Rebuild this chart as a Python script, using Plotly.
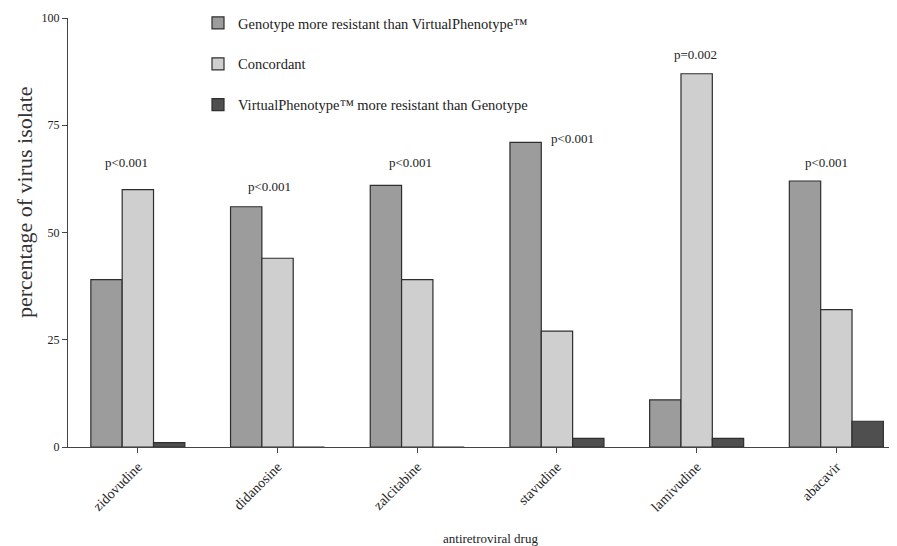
import plotly.graph_objects as go

drugs = ["zidovudine", "didanosine", "zalcitabine", "stavudine", "lamivudine", "abacavir"]
geno_more = [39, 56, 61, 71, 11, 62]
concordant = [60, 44, 39, 27, 87, 32]
vp_more = [1, 0, 0, 2, 2, 6]
series_names = ["Genotype more resistant than VirtualPhenotype™",
                "Concordant",
                "VirtualPhenotype™ more resistant than Genotype"]
p_labels = ["p<0.001", "p<0.001", "p<0.001", "p<0.001", "p=0.002", "p<0.001"]
p_x = [-0.08, 0.94, 1.95, 3.11, 3.99, 4.93]
p_y = [66.4, 60.8, 66.4, 72.0, 91.4, 66.4]
y_ticks = [0, 25, 50, 75, 100]

font = "Liberation Serif, Times New Roman, serif"
colors = ["#9c9c9c", "#cfcfcf", "#4f4f4f"]

# page has an 8px body margin; work in screen pixels and subtract it
OFF = 8
W, H = 897, 546
scr_left, scr_top, scr_bottom, scr_right = 68, 18, 447, 897
L = scr_left - OFF
T = scr_top - OFF
R = W - (scr_right - OFF)
B = H - (scr_bottom - OFF)
pw, ph = W - L - R, H - T - B


def px_to_paper(sx, sy):
    lx, ly = sx - OFF, sy - OFF
    return (lx - L) / pw, (H - B - ly) / ph


fig = go.Figure()
for i, (name, vals) in enumerate(zip(series_names, [geno_more, concordant, vp_more])):
    fig.add_trace(go.Bar(
        x=list(range(len(drugs))), y=vals, name=name,
        marker=dict(color=colors[i], line=dict(color="#2e2e2e", width=1.2)),
        legendgroup=str(i),
    ))

for x, y, t in zip(p_x, p_y, p_labels):
    fig.add_annotation(x=x, y=y, text=t, showarrow=False, xref="x", yref="y",
                       font=dict(family=font, size=13, color="#222"))

xt_x, xt_y = px_to_paper(490, 538)
fig.add_annotation(x=xt_x, y=xt_y, xref="paper", yref="paper", text="antiretroviral drug",
                   showarrow=False, xanchor="center", yanchor="middle",
                   font=dict(family=font, size=13, color="#222"))
yt_x, yt_y = px_to_paper(24, 202)
fig.add_annotation(x=yt_x, y=yt_y, xref="paper", yref="paper",
                   text="percentage of virus isolate", textangle=-90, showarrow=False,
                   xanchor="center", yanchor="middle",
                   font=dict(family=font, size=22, color="#333"))

lg_x, lg_y = px_to_paper(198, 7)

cat_w = 139.7
fig.update_layout(
    width=W, height=H,
    margin=dict(l=L, r=R, t=T, b=B, autoexpand=False),
    plot_bgcolor="white", paper_bgcolor="white",
    barmode="group", bargap=0.327, bargroupgap=0,
    font=dict(family=font, size=13, color="#222"),
    showlegend=True,
    legend=dict(x=lg_x, y=lg_y, xanchor="left", yanchor="top",
                traceorder="grouped", tracegroupgap=19,
                font=dict(family=font, size=14.5, color="#222"),
                bgcolor="rgba(0,0,0,0)", itemwidth=30),
    xaxis=dict(
        tickmode="array", tickvals=list(range(len(drugs))), ticktext=drugs,
        range=[-0.5, -0.5 + pw / cat_w], tickangle=-45,
        showline=True, linecolor="#444", linewidth=1.2,
        ticks="outside", ticklen=5, tickcolor="#444",
        showgrid=False, zeroline=False,
        tickfont=dict(family=font, size=14, color="#222"),
    ),
    yaxis=dict(
        range=[0, 100], tickvals=y_ticks,
        showline=True, linecolor="#444", linewidth=1.2,
        ticks="outside", ticklen=5, tickcolor="#444",
        showgrid=False, zeroline=False,
        tickfont=dict(family=font, size=12, color="#222"),
    ),
)

fig.write_html("out.html")
